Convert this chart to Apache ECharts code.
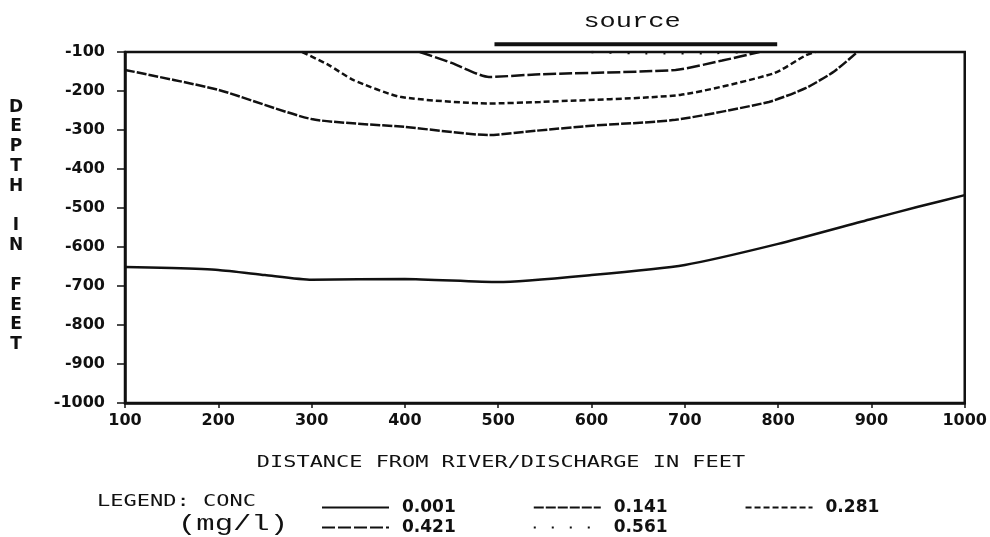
<!DOCTYPE html>
<html>
<head>
<meta charset="utf-8">
<script src="https://cdn.jsdelivr.net/npm/echarts@6/dist/echarts.min.js"></script>
<style>
    html, body { margin: 0; padding: 0; background: #fff; }
    #containerg { width: 990px; height: 537px; }
</style>
</head>
<body>
<div id="containerg"></div>
<script>
// contour lines, [distance ft, depth ft]
var conc001 = [[100, -651], [150, -654], [200, -659], [250, -672], [300, -684], [400, -682], [500, -690],
    [600, -672], [700, -646], [800, -592], [900, -528], [950, -497], [1000, -467]];
var conc141 = [[100, -146], [200, -197], [300, -272], [400, -292], [490, -313], [540, -302], [600, -289],
    [690, -274], [790, -228], [830, -192], [860, -150], [885, -100]];
var conc281 = [[290, -100], [318, -133], [345, -172], [395, -215], [490, -232], [545, -228], [695, -210],
    [795, -155], [830, -108], [840, -100]];
var conc421 = [[416, -100], [450, -128], [490, -164], [545, -157], [690, -146], [740, -122], [780, -100]];
var conc561 = [[600, -100], [650, -103], [720, -103], [765, -100]];
var sourceBar = [[496, -80], [799, -80]];

var concNames = ['0.001', '0.141', '0.281', '0.421', '0.561'];
var concData = [conc001, conc141, conc281, conc421, conc561];
var concDash = ['solid', [10, 2], [6, 3], [13, 3], [2, 16]];

var ink = '#111';

window.onload = function () {
    armagrafico();
};

function armagrafico() {
    var dom = document.getElementById('containerg');
    var myChart = echarts.init(dom, null, { renderer: 'canvas' });

    var series = [];
    for (var i = 0; i < concNames.length; i++) {
        series.push({
            name: concNames[i],
            type: 'line',
            data: concData[i],
            symbol: 'none',
            smooth: 0.2,
            silent: true,
            lineStyle: { color: ink, width: 2.5, type: concDash[i] },
            itemStyle: { color: ink }
        });
    }
    // source bar above the plot
    series.push({
        name: 'source',
        type: 'line',
        data: sourceBar,
        symbol: 'none',
        clip: false,
        silent: true,
        lineStyle: { color: ink, width: 4 }
    });

    var legendText = { color: ink, fontFamily: 'DejaVu Sans', fontWeight: 'bold', fontSize: 17, padding: [0, 0, 0, 8] };
    var plainNum = function (v) { return String(v); };

    var option = {
        animation: false,
        backgroundColor: '#fff',
        grid: { left: 125, right: 25, top: 52, bottom: 134, show: true, borderColor: ink, borderWidth: 2.5 },
        xAxis: {
            type: 'value',
            min: 100,
            max: 1000,
            interval: 100,
            splitLine: { show: false },
            axisLine: { lineStyle: { color: ink, width: 2.5 } },
            axisTick: { length: 5, lineStyle: { color: ink, width: 1.5 } },
            axisLabel: { margin: 10, color: ink, fontFamily: 'DejaVu Sans', fontWeight: 'bold', fontSize: 16, formatter: plainNum }
        },
        yAxis: {
            type: 'value',
            min: -1000,
            max: -100,
            interval: 100,
            splitLine: { show: false },
            axisLine: { onZero: false, lineStyle: { color: ink, width: 2.5 } },
            axisTick: { length: 8, lineStyle: { color: ink, width: 1.5 } },
            axisLabel: { margin: 20, color: ink, fontFamily: 'DejaVu Sans', fontWeight: 'bold', fontSize: 16, formatter: plainNum }
        },
        legend: [{
            data: concNames.slice(0, 3),
            left: 316,
            top: 494,
            orient: 'horizontal',
            itemWidth: 67,
            itemHeight: 14,
            itemGap: 77,
            selectedMode: false,
            itemStyle: { opacity: 0, borderWidth: 0 },
            textStyle: legendText
        }, {
            data: concNames.slice(3),
            left: 316,
            top: 514,
            orient: 'horizontal',
            itemWidth: 67,
            itemHeight: 14,
            itemGap: 77,
            selectedMode: false,
            itemStyle: { opacity: 0, borderWidth: 0 },
            textStyle: legendText
        }],
        graphic: [{
            type: 'text', x: 632, y: 22, scaleX: 1.35, silent: true,
            style: { text: 'source', fill: ink, font: '20px "Liberation Mono"', textAlign: 'center', textVerticalAlign: 'middle', align: 'center', verticalAlign: 'middle' }
        }, {
            type: 'text', x: 501, y: 463, scaleX: 1.37, silent: true,
            style: { text: 'DISTANCE FROM RIVER/DISCHARGE IN FEET', fill: ink, font: '16px "DejaVu Sans Mono"', textAlign: 'center', textVerticalAlign: 'middle', align: 'center', verticalAlign: 'middle' }
        }, {
            type: 'text', x: 16, y: 226, silent: true,
            style: { text: 'D\nE\nP\nT\nH\n \nI\nN\n \nF\nE\nE\nT', fill: ink, font: 'bold 17px "DejaVu Sans"', lineHeight: 19.8, textAlign: 'center', textVerticalAlign: 'middle', align: 'center', verticalAlign: 'middle' }
        }, {
            type: 'text', x: 97, y: 502, scaleX: 1.375, silent: true,
            style: { text: 'LEGEND: CONC', fill: ink, font: '16px "DejaVu Sans Mono"', textAlign: 'left', textVerticalAlign: 'middle', align: 'left', verticalAlign: 'middle' }
        }, {
            type: 'text', x: 233, y: 524, scaleX: 1.39, silent: true,
            style: { text: '(mg/l)', fill: ink, font: '22px "Liberation Mono"', textAlign: 'center', textVerticalAlign: 'middle', align: 'center', verticalAlign: 'middle' }
        }],
        series: series
    };

    if (option && typeof option === 'object') {
        myChart.setOption(option);
    }
}
</script>
</body>
</html>
